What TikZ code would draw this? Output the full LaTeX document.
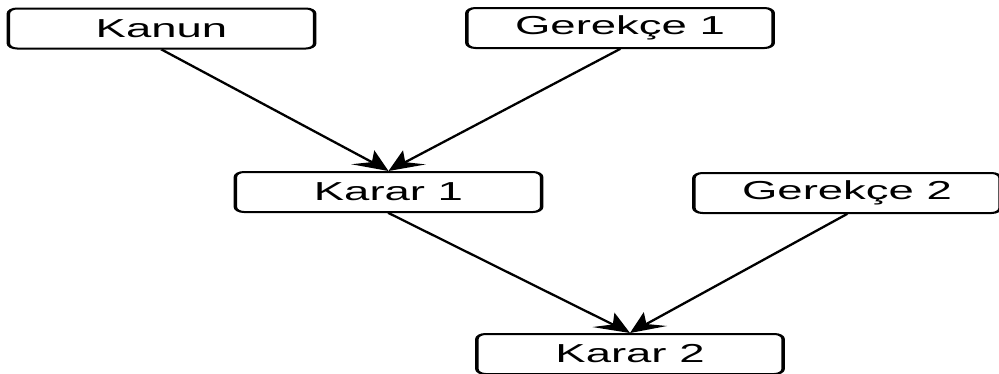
\documentclass[tikz,border=0pt]{standalone}
\usepackage{fontspec}
\setmainfont{Liberation Sans}
\usetikzlibrary{arrows.meta}
\begin{document}
\begin{tikzpicture}[x=1pt, y=-1pt,
    box/.style={draw, line width=2pt, rounded corners=5pt, minimum width=175pt,
      minimum height=40pt, inner sep=0pt, font=\fontsize{26}{30}\selectfont},
    link/.style={line width=1.9pt, -{Stealth[length=20pt, width=19pt, inset=7pt]}}]
  \useasboundingbox (0,0) rectangle (999,373);
  \begin{scope}[transform canvas={xscale=1.75}]
    \node [box] (kanun) at (92.3,28.5) {Kanun};
    \node [box] (gerekce1) at (354.3,28) {Gerekçe 1};
    \node [box] (karar1) at (222,192) {Karar 1};
    \node [box] (gerekce2) at (484,193) {Gerekçe 2};
    \node [box] (karar2) at (360,354) {Karar 2};
    \draw [link] (kanun.south) -- (karar1.north);
    \draw [link] (gerekce1.south) -- (karar1.north);
    \draw [link] (karar1.south) -- (karar2.north);
    \draw [link] (gerekce2.south) -- (karar2.north); % both meet at the top
  \end{scope}
\end{tikzpicture}
\end{document}
